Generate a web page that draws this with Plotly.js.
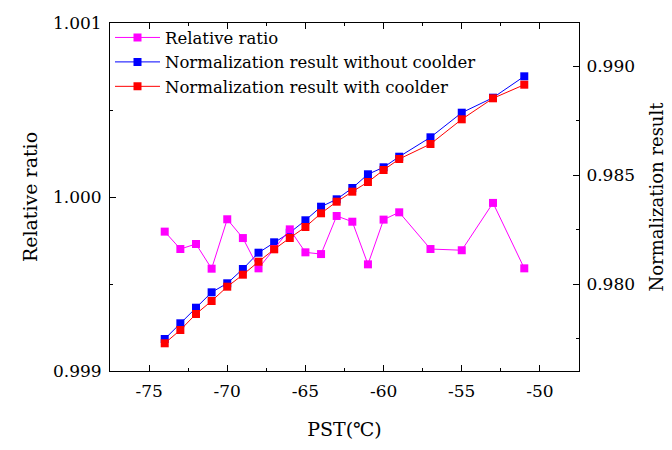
<!DOCTYPE html>
<html>
<head>
<meta charset="utf-8">
<script src="https://cdn.plot.ly/plotly-3.0.1.min.js"></script>
<style>html,body{margin:0;padding:0;background:#fff;}#chart{width:672px;height:450px;}</style>
</head>
<body>
<div id="chart"></div>
<script>
const pst = [-74, -73, -72, -71, -70, -69, -68, -67, -66, -65, -64, -63, -62, -61, -60, -59, -57, -55, -53, -51];
const relativeRatio = [0.999801, 0.999701, 0.99973, 0.999588, 0.999872, 0.999764, 0.99959, 0.999701, 0.999814, 0.999682, 0.999672, 0.999891, 0.999858, 0.999613, 0.99987, 0.999912, 0.999701, 0.999694, 0.999966, 0.99959];
const normWithout = [0.977471, 0.978193, 0.97891, 0.979618, 0.980032, 0.98069, 0.981439, 0.981917, 0.982359, 0.982929, 0.983554, 0.983894, 0.984414, 0.985044, 0.985366, 0.985853, 0.986745, 0.987876, 0.988566, 0.989549];
const normWith = [0.977274, 0.977885, 0.978621, 0.979218, 0.979876, 0.980428, 0.981025, 0.981595, 0.982115, 0.982621, 0.983251, 0.983784, 0.984244, 0.98469, 0.985241, 0.985747, 0.986437, 0.987572, 0.988538, 0.989163];
const xTicks = [-75, -70, -65, -60, -55, -50];
const xTickText = ['-75', '-70', '-65', '-60', '-55', '-50'];
const leftTicks = [0.999, 1.000, 1.001];
const rightTicks = [0.980, 0.985, 0.990];

const FONT = 'DejaVu Serif, serif';

const traces = [
  {x: pst, y: normWithout, name: 'Normalization result without coolder', type: 'scatter', mode: 'lines+markers',
   xaxis: 'x', yaxis: 'y', line: {color: '#0000ff', width: 1}, marker: {symbol: 'square', size: 8, color: '#0000ff'}, legendrank: 2},
  {x: pst, y: relativeRatio, name: 'Relative ratio', type: 'scatter', mode: 'lines+markers',
   xaxis: 'x', yaxis: 'y2', line: {color: '#ff00ff', width: 1}, marker: {symbol: 'square', size: 8, color: '#ff00ff'}, legendrank: 1},
  {x: pst, y: normWith, name: 'Normalization result with coolder', type: 'scatter', mode: 'lines+markers',
   xaxis: 'x', yaxis: 'y3', line: {color: '#ff0000', width: 1}, marker: {symbol: 'square', size: 8, color: '#ff0000'}, legendrank: 3}
];

const axCommon = {showgrid: false, zeroline: false, showline: true, linecolor: '#000', linewidth: 1,
  ticks: 'inside', ticklen: 6, tickwidth: 1, tickcolor: '#000', tickfont: {family: FONT, size: 17, color: '#000'}};

const layout = {
  width: 672, height: 450,
  margin: {l: 110, r: 93, t: 23, b: 79},
  paper_bgcolor: '#fff', plot_bgcolor: '#fff',
  font: {family: FONT, color: '#000'},
  showlegend: true,
  legend: {x: 0, y: 1.008, xanchor: 'left', yanchor: 'top', bgcolor: 'rgba(0,0,0,0)', borderwidth: 0, itemwidth: 45,
    font: {family: FONT, size: 16.5, color: '#000'}, tracegroupgap: 0, traceorder: 'normal'},
  xaxis: Object.assign({}, axCommon, {range: [-77.5, -47.5], tickvals: xTicks, ticktext: xTickText, mirror: 'ticks',
    ticklabelstandoff: 5,
    minor: {dtick: 2.5, tick0: -75, ticklen: 3, ticks: 'inside', tickcolor: '#000'},
    title: {text: 'PST(℃)', font: {family: FONT, size: 19, color: '#000'}, standoff: 22}}),
  yaxis: Object.assign({}, axCommon, {range: [0.976, 0.992], side: 'right', tickvals: rightTicks, tickformat: '.3f',
    ticklabelstandoff: 3,
    minor: {dtick: 0.0025, tick0: 0.9775, ticklen: 3, ticks: 'inside', tickcolor: '#000'},
    title: {text: 'Normalization result', font: {family: FONT, size: 18, color: '#000'}, standoff: 16}}),
  yaxis2: Object.assign({}, axCommon, {range: [0.999, 1.001], side: 'left', overlaying: 'y', tickvals: leftTicks, tickformat: '.3f',
    ticklabelstandoff: 4,
    minor: {dtick: 0.0005, tick0: 0.999, ticklen: 3, ticks: 'inside', tickcolor: '#000'},
    title: {text: 'Relative ratio', font: {family: FONT, size: 19, color: '#000'}, standoff: 10}}),
  yaxis3: {range: [0.976, 0.992], overlaying: 'y', visible: false, showgrid: false, zeroline: false}
};

Plotly.newPlot('chart', traces, layout, {displayModeBar: false, staticPlot: true});
</script>
</body>
</html>
